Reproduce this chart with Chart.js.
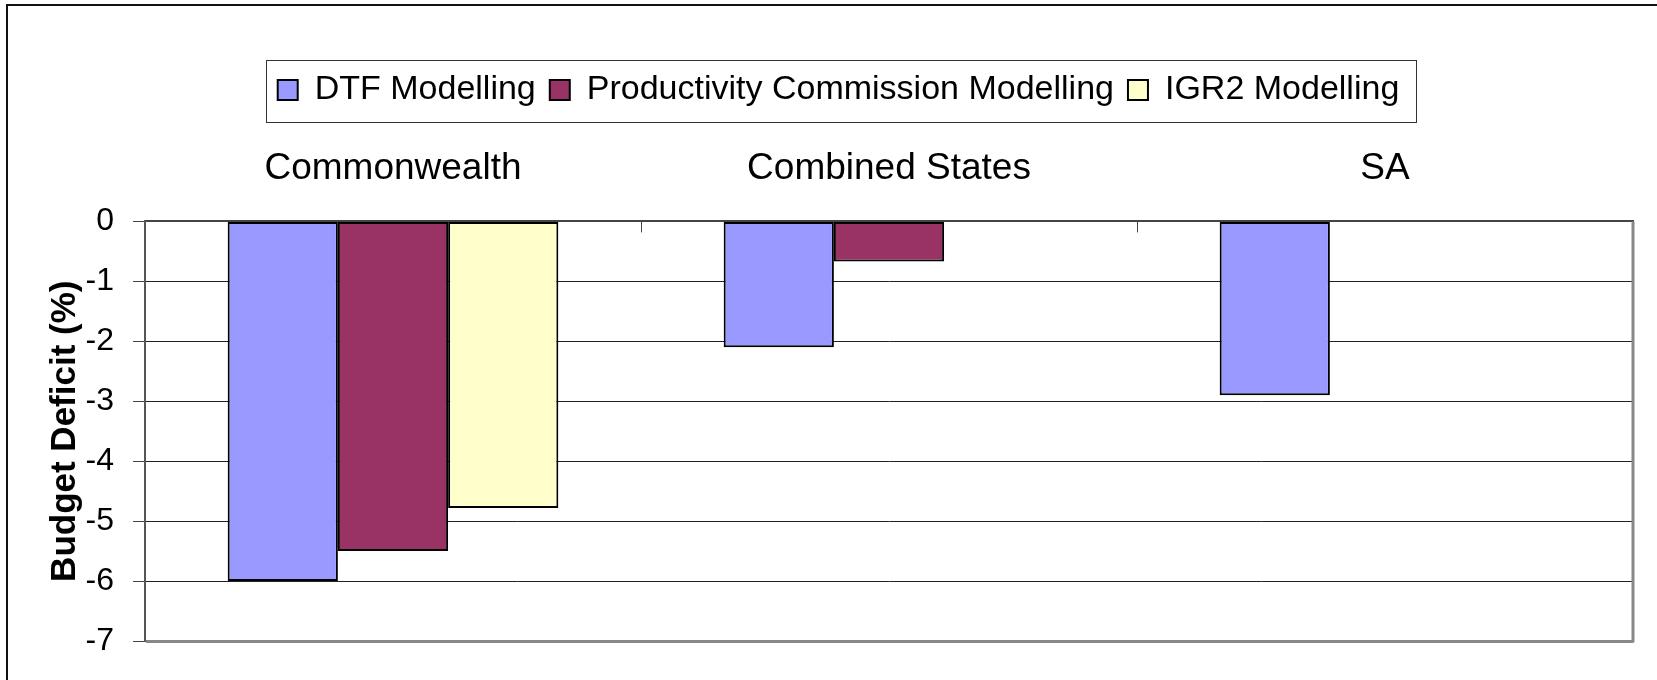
<!DOCTYPE html>
<html>
<head>
<meta charset="utf-8">
<title>Budget Deficit</title>
<script src="https://cdn.jsdelivr.net/npm/chart.js@4"></script>
<style>
  html, body { margin: 0; padding: 0; background: #fff; overflow: hidden; }
  #wrap { position: relative; width: 1657px; height: 680px; }
</style>
</head>
<body>
<div id="wrap"><canvas id="barChart"></canvas></div>
<script>
// chart data
const categories = ['Commonwealth', 'Combined States', 'SA'];
const dtfValues = [-6.0, -2.1, -2.9];
const pcValues = [-5.5, -0.67, null];
const igrValues = [-4.78, null, null];
const yTicks = [0, -1, -2, -3, -4, -5, -6, -7];

Chart.defaults.font.family = '"Liberation Sans", Arial, sans-serif';
Chart.defaults.color = '#000';

// outer frame (left and top edges only, like the cropped original)
const frame = {
  id: 'frame',
  beforeDraw(chart) {
    const ctx = chart.ctx;
    ctx.save();
    ctx.strokeStyle = '#111';
    ctx.lineWidth = 2;
    ctx.beginPath();
    ctx.moveTo(7, chart.height);
    ctx.lineTo(7, 5);
    ctx.lineTo(chart.width, 5);
    ctx.stroke();
    ctx.restore();
  }
};

// box around the legend
const legendBox = {
  id: 'legendBox',
  afterDraw(chart) {
    const boxes = chart.legend.legendHitBoxes;
    if (!boxes || !boxes.length) return;
    const left = Math.min(...boxes.map(b => b.left)) - 12;
    const right = Math.max(...boxes.map(b => b.left + b.width)) + 16;
    const top = boxes[0].top - 13;
    const bottom = boxes[0].top + boxes[0].height + 15;
    const ctx = chart.ctx;
    ctx.save();
    ctx.strokeStyle = '#333';
    ctx.lineWidth = 1;
    ctx.strokeRect(Math.round(left) + 0.5, Math.round(top) + 0.5, Math.round(right - left), Math.round(bottom - top));
    ctx.restore();
  }
};

// small ticks between categories and the right plot border
const plotEdges = {
  id: 'plotEdges',
  afterDraw(chart) {
    const {ctx, chartArea} = chart;
    const x = chart.scales.x;
    ctx.save();
    ctx.strokeStyle = '#444';
    ctx.lineWidth = 1;
    for (let i = 1; i < categories.length; i++) {
      const px = Math.round((x.getPixelForValue(i - 1) + x.getPixelForValue(i)) / 2) + 0.5;
      ctx.beginPath();
      ctx.moveTo(px, chartArea.top);
      ctx.lineTo(px, chartArea.top + 11);
      ctx.stroke();
    }
    ctx.strokeStyle = '#888';
    ctx.lineWidth = 3;
    ctx.beginPath();
    ctx.moveTo(chartArea.right, chartArea.top);
    ctx.lineTo(chartArea.right, chartArea.bottom + 1.5);
    ctx.stroke();
    ctx.restore();
  }
};

const ctx = document.getElementById('barChart').getContext('2d');
new Chart(ctx, {
  type: 'bar',
  data: {
    labels: categories,
    datasets: [
      { label: 'DTF Modelling', data: dtfValues, backgroundColor: '#9999FF' },
      { label: 'Productivity Commission Modelling', data: pcValues, backgroundColor: '#993366' },
      { label: 'IGR2 Modelling', data: igrValues, backgroundColor: '#FFFFCC' }
    ].map(ds => Object.assign(ds, {
      borderColor: '#000',
      borderWidth: 2,
      borderSkipped: false,
      categoryPercentage: 2 / 3,
      barPercentage: 1
    }))
  },
  options: {
    responsive: true,
    maintainAspectRatio: false,
    animation: false,
    layout: { padding: { top: 59, left: 44, right: 24, bottom: 39 } },
    plugins: {
      legend: {
        position: 'top',
        labels: {
          boxWidth: 20,
          boxHeight: 20,
          padding: 14,
          color: '#000',
          font: { size: 34 }
        }
      },
      tooltip: { enabled: false }
    },
    scales: {
      x: {
        position: 'top',
        grid: { display: false, drawTicks: false },
        border: { display: true, color: '#444', width: 2 },
        ticks: { font: { size: 37 }, color: '#000', padding: 30 }
      },
      y: {
        min: -7,
        max: 0,
        afterFit(scale) { scale.width = 101; },
        afterBuildTicks(scale) { scale.ticks = yTicks.map(v => ({ value: v })); },
        title: {
          display: true,
          text: 'Budget Deficit (%)',
          font: { size: 35, weight: 'bold' },
          color: '#000',
          padding: { top: 0, bottom: 0 }
        },
        ticks: { font: { size: 32 }, color: '#000', padding: 19 },
        grid: {
          color: c => c.tick && c.tick.value === -7 ? '#888' : (c.tick && c.tick.value === 0 ? '#444' : '#222'),
          lineWidth: c => c.tick && c.tick.value === -7 ? 3 : 1,
          tickLength: 12,
          tickColor: '#444',
          tickWidth: 1
        },
        border: { color: '#555', width: 2 }
      }
    }
  },
  plugins: [frame, legendBox, plotEdges]
});
</script>
</body>
</html>
